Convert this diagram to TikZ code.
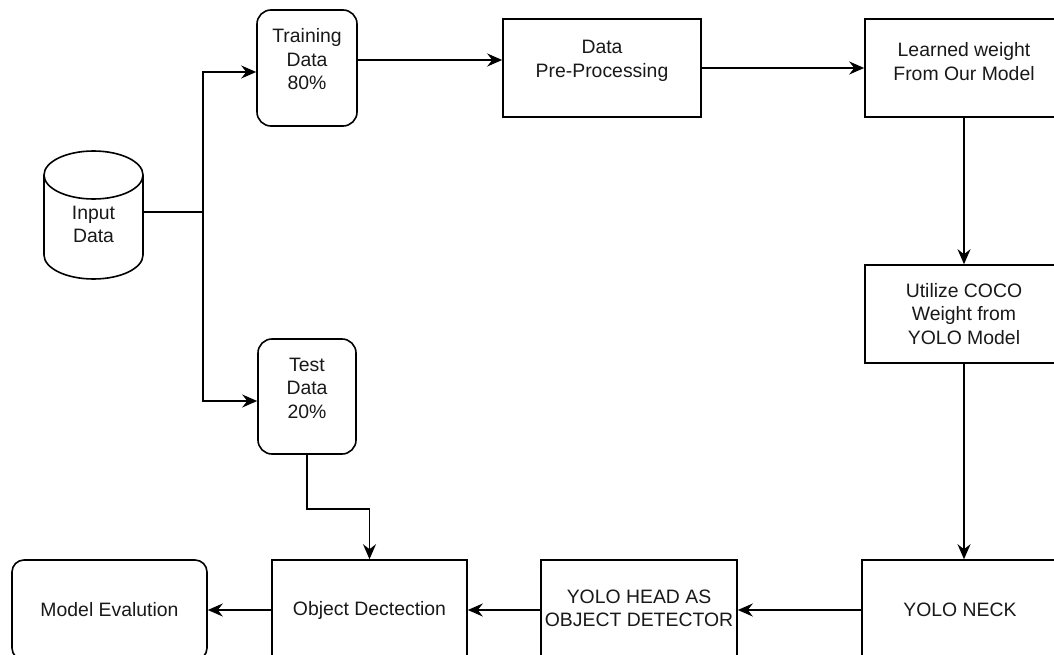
\documentclass[tikz,border=0pt]{standalone}
\usepackage{fontspec}
\setmainfont{Liberation Sans}
\usetikzlibrary{arrows.meta}
\begin{document}
\begin{tikzpicture}[x=1pt,y=-1pt,
  blk/.style={draw=black, line width=1.6pt, inner sep=0pt, fill=white},
  rblk/.style={blk, rounded corners=14pt},
  txt/.style={font=\fontsize{19.4}{23.5}\selectfont, align=center, inner sep=0pt, text=black!90},
  conn/.style={line width=1.6pt, draw=black},
  arr/.style={conn, -{Stealth[length=15pt,width=13pt,inset=5pt]}}]
\useasboundingbox (0,0) rectangle (1054,655);
\clip (0,0) rectangle (1054,655);
\fill[white] (0,0) rectangle (1054,655);

% input cylinder
\draw[line width=1.6pt, fill=white] (44,175) -- (44,255) arc (180:360:49.5pt and 24pt) -- (143,175);
\draw[line width=1.6pt] (93.5,175) ellipse [x radius=49.5pt, y radius=24pt];
\node[txt] (inT) at (93.5,224.5) {Input\\Data};
\coordinate (inR) at (143,212);
\coordinate (split) at (203,212);

% boxes
\node[rblk, minimum width=100, minimum height=116] (train) at (307,68) {};
\node[txt] (trainT) at (307,59.5) {Training\\Data\\80\%};
\node[rblk, minimum width=98, minimum height=115] (test) at (307,396.5) {};
\node[txt] (testT) at (307,388) {Test\\Data\\20\%};
\node[blk, minimum width=198, minimum height=98] (pre) at (602,68) {};
\node[txt] (preT) at (602,61) {Data\\Pre-Processing};
\node[blk, minimum width=198, minimum height=98] (learn) at (964,68) {};
\node[txt] (learnT) at (964,61.5) {Learned weight\\From Our Model};
\node[blk, minimum width=198, minimum height=98] (util) at (964,314) {};
\node[txt] (utilT) at (964,314) {Utilize COCO\\Weight from\\YOLO Model};
\node[blk, minimum width=204, minimum height=100] (neck) at (964,610) {};
\node[txt] (neckT) at (960,610) {YOLO NECK};
\node[blk, minimum width=196, minimum height=100] (head) at (639,610) {};
\node[txt] (headT) at (639,608.5) {YOLO HEAD AS\\OBJECT DETECTOR};
\node[blk, minimum width=195, minimum height=100] (obj) at (369.5,610) {};
\node[txt] (objT) at (369.5,610) {Object Dectection};
\node[rblk, rounded corners=12pt, minimum width=195, minimum height=100] (eval) at (109.5,610) {};
\node[txt] (evalT) at (109.5,610) {Model Evalution};

% connectors
\draw[conn] (inR) -- (split);
\draw[arr] (split) |- ([yshift=-4pt]train.west);
\draw[arr] (split) |- ([yshift=-4.5pt]test.west);
\draw[arr] ([yshift=8pt]train.east) -- ([yshift=8pt]train.east -| pre.west);
\draw[arr] (pre.east) -- (learn.west);
\draw[arr] (learn.south) -- (util.north);
\draw[arr] (util.south) -- (neck.north);
\draw[arr] (neck.west) -- (head.east);
\draw[arr] (head.west) -- (obj.east);
\draw[arr] (obj.west) -- (eval.east);
\draw[arr] (test.south) -- ++(0,54) -| (obj.north);
\end{tikzpicture}
\end{document}
